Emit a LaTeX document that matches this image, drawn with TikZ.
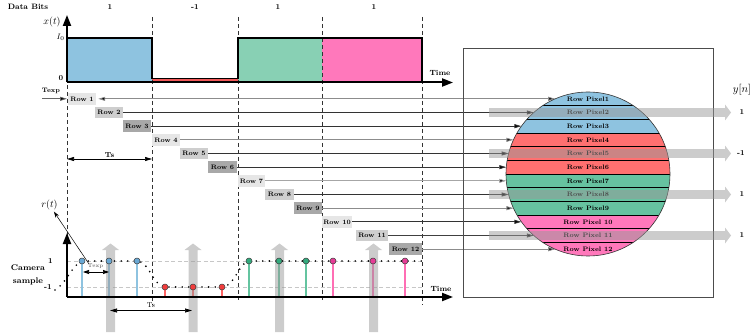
\documentclass[tikz,border=0pt]{standalone}
\usepackage{fontspec}
\usetikzlibrary{arrows.meta}
\definecolor{blueT}{RGB}{142,195,224}
\definecolor{redT}{RGB}{240,88,88}
\definecolor{greenT}{RGB}{136,208,180}
\definecolor{pinkT}{RGB}{255,120,187}
\definecolor{bandB}{RGB}{142,195,224}
\definecolor{bandR}{RGB}{255,112,112}
\definecolor{bandG}{RGB}{102,194,160}
\definecolor{bandP}{RGB}{255,120,187}
\definecolor{stemB}{RGB}{142,195,224}
\definecolor{stemR}{RGB}{255,100,100}
\definecolor{stemG}{RGB}{100,196,160}
\definecolor{stemP}{RGB}{255,110,180}
\definecolor{mkB}{RGB}{105,168,212}
\definecolor{mkR}{RGB}{240,60,60}
\definecolor{mkG}{RGB}{50,170,125}
\definecolor{mkP}{RGB}{230,60,150}
\definecolor{rowE}{RGB}{230,230,230}
\definecolor{rowM}{RGB}{206,206,206}
\definecolor{rowD}{RGB}{168,168,168}
\begin{document}
\begin{tikzpicture}[x=1pt,y=-1pt,
  lbl/.style={font=\fontsize{7.5}{8}\selectfont\bfseries, inner sep=0pt},
  small/.style={font=\fontsize{6.5}{7}\selectfont\bfseries, inner sep=0pt},
  rowbox/.style={minimum height=11.5pt, inner sep=0pt, font=\fontsize{6.5}{7}\selectfont\bfseries},
  pix/.style={font=\fontsize{6.5}{7}\selectfont\bfseries, inner sep=0pt},
  dashv/.style={dash pattern=on 4pt off 3pt, line width=0.6pt, black!80},
  dashh/.style={dash pattern=on 4pt off 2.5pt, line width=0.6pt, black!22},
  grayarrow/.style={fill=black!40, fill opacity=0.5, draw=none},
  stem/.style={line width=2.5pt},
  smark/.style={line width=0.5pt, draw=black!75},
  axisln/.style={line width=2pt, -{Triangle[length=11pt,width=8pt]}},
  dotcurve/.style={line width=1.8pt, line cap=round, dash pattern=on 0pt off 6.6pt}
]
\useasboundingbox (0,0) rectangle (753,334);

% ---------- top signal ----------
\fill[blueT] (67,38) rectangle (152,82);
\fill[redT] (152,78.5) rectangle (238,82);
\fill[greenT] (238,38) rectangle (322,82);
\fill[pinkT] (322,38) rectangle (422,82);

% dashed verticals
\draw[dashv] (67,85) -- (67,297);
\draw[dashv] (152,17) -- (152,305);
\draw[dashv] (238,17) -- (238,300);
\draw[dashv] (322,17) -- (322,300);
\draw[dashv] (422,17) -- (422,305);

\draw[line width=1.8pt, line join=miter] (67,82) -- (67,38) -- (152,38) -- (152,78.5) -- (238,78.5) -- (238,38) -- (422,38) -- (422,82);
\coordinate (o1) at (67,82.5);
\coordinate (yt1) at (67,15);
\coordinate (xt1) at (453,82.5);
\draw[axisln] (o1) -- (yt1);
\draw[axisln] (o1) -- (xt1);

\node[font=\fontsize{7.8}{8}\selectfont\bfseries, inner sep=0pt] (db) at (28,7) {Data Bits};
\node[lbl] (b1) at (110,7) {1};
\node[lbl] (b2) at (195,7) {-1};
\node[lbl] (b3) at (278,7) {1};
\node[lbl] (b4) at (374,7) {1};
\node[font=\fontsize{10}{10}\selectfont, inner sep=0pt] (xt) at (52,22) {$x(t)$};
\node[font=\fontsize{8}{8}\selectfont, inner sep=0pt] (i0) at (60.5,37) {$I_0$};
\node[lbl] (z0) at (61,78) {0};
\node[lbl] (time1) at (440,73) {Time};

% ---------- rows ----------
\node[small] (texp1) at (51,91) {Texp};
\coordinate (tx0) at (42,98.8);
\coordinate (tx1) at (67,98.8);
\draw[line width=0.7pt, black!60, -{Triangle[length=7pt,width=4pt,fill=black]}] (tx0) -- (tx1);

\foreach \k/\l/\r/\sh in {1/68/96/rowE, 2/95/123/rowM, 3/123/151/rowD, 4/152/180/rowE, 5/180/208/rowM, 6/208/237/rowD, 7/238/265/rowE, 8/265/294/rowM, 9/294/322/rowD, 10/322/352/rowE, 11/356/388/rowM, 12/389/422/rowD}{
  \pgfmathsetmacro\yy{92+13.667*(\k-0.5)}
  \pgfmathsetmacro\xx{588-sqrt(6724-(\yy-174)*(\yy-174))}
  \pgfmathsetmacro\cx{(\l+\r)/2}
  \pgfmathsetmacro\ww{\r-\l}
  \node[rowbox, fill=\sh, minimum width=\ww pt] (r\k) at (\cx,\yy) {Row \k};
  \coordinate (p\k) at (\xx,\yy);
}
\draw[line width=0.8pt, black!45, {Triangle[length=7pt,width=4pt,fill=black]}-{Triangle[length=7pt,width=4pt,fill=black]}, shorten <=2pt] (r1.east) -- (p1);
\foreach \k/\lc in {2/black!80, 3/black!80, 4/black!45, 5/black!80, 6/black!80, 7/black!35, 8/black!80, 9/black!45, 10/black!80, 11/black!75, 12/black!45}{
  \draw[line width=0.8pt, draw=\lc, -{Triangle[length=7pt,width=4pt,fill=black]}] (r\k.east) -- (p\k);
}

\coordinate (ts1a) at (67,159);
\coordinate (ts1b) at (152,159);
\draw[line width=0.7pt, {Triangle[length=7pt,width=4pt]}-{Triangle[length=7pt,width=4pt]}] (ts1a) -- node[above=1pt, font=\fontsize{7.2}{7}\selectfont\bfseries, inner sep=0pt] (tslbl1) {Ts} (ts1b);

% ---------- sensor ----------
\draw[black!70, line width=0.8pt] (463,48.5) rectangle (713,297.5);
\begin{scope}
  \clip (588,174) circle[radius=82pt];
  \foreach \k/\col in {1/bandB,2/bandB,3/bandB,4/bandR,5/bandR,6/bandR,7/bandG,8/bandG,9/bandG,10/bandP,11/bandP,12/bandP}{
    \fill[\col] (500,{92+13.667*(\k-1)}) rectangle (680,{92+13.667*\k});
  }
  \foreach \k in {1,...,11}{
    \draw[line width=0.6pt] (500,{92+13.667*\k}) -- (680,{92+13.667*\k});
  }
\end{scope}
\node[circle, draw=black!80, line width=0.6pt, minimum size=164pt, inner sep=0pt] (circ) at (588,174) {};
\foreach \k in {1,...,9}{
  \node[pix] (px\k) at (588,{92+13.667*(\k-0.5)}) {Row Pixel\k};
}
\foreach \k in {10,11,12}{
  \node[pix] (px\k) at (588,{92+13.667*(\k-0.5)}) {Row Pixel \k};
}
\foreach \k in {2,5,8,11}{
  \pgfmathsetmacro\yy{92+13.667*(\k-0.5)}
  \fill[grayarrow] (489,\yy-4.3) -- (725,\yy-4.3) -- (725,\yy-8) -- (731,\yy) -- (725,\yy+8) -- (725,\yy+4.3) -- (489,\yy+4.3) -- cycle;
}
\node[lbl] (yn1) at (742,112.5) {1};
\node[lbl] (yn2) at (741,153.5) {-1};
\node[lbl] (yn3) at (742,194.5) {1};
\node[lbl] (yn4) at (742,235.5) {1};
\node[font=\fontsize{10.5}{10}\selectfont, inner sep=0pt] (yn) at (742,90) {$y[n]$};

% ---------- camera samples ----------
\draw[dashh] (67,261) -- (422,261);
\draw[dashh] (67,287) -- (422,287);
\foreach \x in {82,109,137}{\draw[stem, stemB] (\x,297) -- (\x,261);}
\foreach \x in {165,193,222}{\draw[stem, stemR] (\x,297) -- (\x,287);}
\foreach \x in {249,279,306}{\draw[stem, stemG] (\x,297) -- (\x,261);}
\foreach \x in {333,373,405}{\draw[stem, stemP] (\x,297) -- (\x,261);}

\foreach \x in {110.5,193,279.5,373.5}{
  \fill[grayarrow] (\x-4.5,332) -- (\x-4.5,250) -- (\x-8.5,250) -- (\x,243.5) -- (\x+8.5,250) -- (\x+4.5,250) -- (\x+4.5,332) -- cycle;
}

\draw[dotcurve] (55,290) .. controls (66,284) and (72,265) .. (82,261) -- (137,261) .. controls (150,262) and (152,285) .. (165,287) -- (222,287) .. controls (235,287) and (238,263) .. (249,261) -- (422,261);

\foreach \x in {82,109,137}{\draw[smark, fill=mkB] (\x,261) circle[radius=3pt];}
\foreach \x in {165,193,222}{\draw[smark, fill=mkR] (\x,287) circle[radius=3pt];}
\foreach \x in {249,279,306}{\draw[smark, fill=mkG] (\x,261) circle[radius=3pt];}
\foreach \x in {333,373,405}{\draw[smark, fill=mkP] (\x,261) circle[radius=3pt];}

\coordinate (o2) at (67,297);
\coordinate (yt2) at (67,233);
\coordinate (xt2) at (453,297);
\draw[axisln] (o2) -- (yt2);
\draw[axisln] (o2) -- (xt2);
\node[lbl] (time2) at (441,289) {Time};
\node[lbl] (one) at (50.5,261) {1};
\node[lbl] (mone) at (48,287) {-1};
\node[font=\fontsize{8.2}{13}\selectfont\bfseries, align=center, inner sep=0pt] (cam) at (28,274.5) {Camera\\sample};
\node[font=\fontsize{10}{10}\selectfont, inner sep=1.5pt] (rt) at (49.5,205) {$r(t)$};
\coordinate (rp) at (89,264);
\draw[line width=0.5pt, -{Stealth[length=6pt,width=4pt]}] (rp) -- (rt);

\coordinate (te2a) at (83,272);
\coordinate (te2b) at (109,272);
\draw[line width=0.7pt, {Triangle[length=6pt,width=4pt]}-{Triangle[length=6pt,width=4pt]}] (te2a) -- (te2b);
\node[font=\fontsize{5.3}{6}\selectfont, black!70, inner sep=0pt] (texp2) at (95.5,266.5) {Texp};

\coordinate (ts2a) at (110,310.5);
\coordinate (ts2b) at (192,310.5);
\draw[line width=0.7pt, {Triangle[length=7pt,width=4pt]}-{Triangle[length=7pt,width=4pt]}] (ts2a) -- (ts2b);
\node[font=\fontsize{7}{7}\selectfont, inner sep=0pt] (tslbl2) at (151,305.5) {Ts};
\end{tikzpicture}
\end{document}
